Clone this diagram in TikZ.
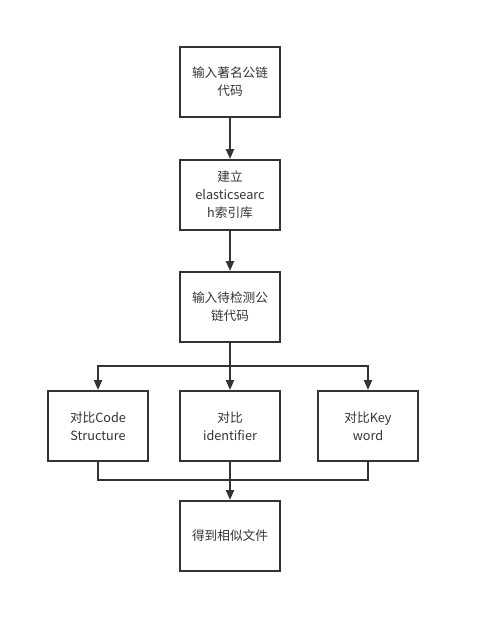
\documentclass[tikz,border=0pt]{standalone}
\usepackage{fontspec}
\setmainfont{Noto Sans CJK SC}
\usetikzlibrary{arrows.meta}
\begin{document}
\begin{tikzpicture}[x=0.75pt,y=-0.75pt,
  box/.style={draw=black!80,line width=1.5pt,minimum width=75pt,minimum height=52.5pt,
    inner sep=0pt,align=center,font=\fontsize{9.5}{13.5}\selectfont,text=black!80},
  conn/.style={draw=black!80,line width=1.5pt},
  arr/.style={conn,-{Triangle[length=7.5pt,width=6pt]}}]
\useasboundingbox (0,0) rectangle (480,633);
\node[box] (a) at (230,82) {输入著名公链\\代码};
\node[box] (b) at (230,195) {建立\\elasticsearc\\h索引库};
\node[box] (c) at (230,307) {输入待检测公\\链代码};
\node[box] (d) at (98,426) {对比Code\\Structure};
\node[box] (e) at (230,426) {对比\\identifier};
\node[box] (f) at (368,426) {对比Key\\word};
\node[box] (g) at (230,536) {得到相似文件};
\coordinate (s) at (230,366);
\coordinate (m) at (230,480);
\draw[arr] (a) -- (b);
\draw[arr] (b) -- (c);
\draw[conn] (c) -- (s);
\draw[arr] (s) -| (d);
\draw[arr] (s) -| (f);
\draw[arr] (s) -- (e);
\draw[conn] (d.south) |- (m);
\draw[conn] (f.south) |- (m);
\draw[conn] (e) -- (m);
\draw[arr] (m) -- (g);
\end{tikzpicture}
\end{document}
